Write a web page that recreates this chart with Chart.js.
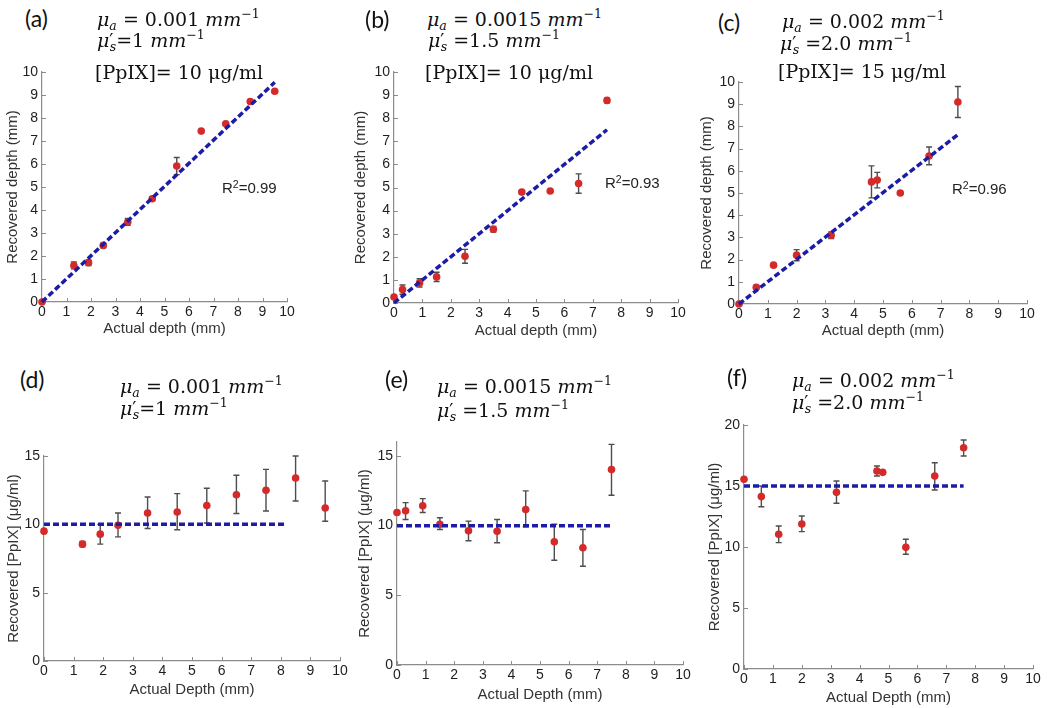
<!DOCTYPE html>
<html>
<head>
<meta charset="utf-8">
<script src="https://cdn.jsdelivr.net/npm/chart.js@4.4.0/dist/chart.umd.min.js"></script>
<style>
  body { margin: 0; background: #fff; }
  #fig { position: relative; width: 1050px; height: 708px; overflow: hidden; background: #fff; }
  .box { position: absolute; }
  .lbl { position: absolute; font-family: Lato, "Open Sans", sans-serif; font-size: 23px; line-height: 1; color: #111; }
  .h { position: absolute; font-family: "DejaVu Serif", serif; font-size: 19px; line-height: 1; white-space: nowrap; color: #111; }
  .h sub, .h sup { font-size: 0.66em; line-height: 0; }
  .h sup { vertical-align: 0.6em; }
  .h sub { vertical-align: -0.35em; }
  .h .pr { font-size: 0.95em; }
  .h sub.s { margin-left: -0.3em; }
  .r2 { position: absolute; font-family: "Liberation Sans", Arial, sans-serif; font-size: 15px; line-height: 1; color: #222; }
  .r2 sup { font-size: 0.7em; vertical-align: 0.5em; line-height: 0; }
</style>
</head>
<body>
<div id="fig"></div>
<script>
// tick labels
const depthTicks = [0, 1, 2, 3, 4, 5, 6, 7, 8, 9, 10];
const ppixTicksD = [0, 5, 10, 15];
const ppixTicksE = [0, 5, 10, 15];
const ppixTicksF = [0, 5, 10, 15, 20];

// (a) recovered depth
const aX = [0, 1.3, 1.9, 2.5, 3.5, 4.5, 5.5, 6.5, 7.5, 8.5, 9.5];
const aY = [0, 1.59, 1.71, 2.46, 3.48, 4.49, 5.91, 7.43, 7.75, 8.72, 9.16];
const aErr = [0, 0.15, 0.12, 0.1, 0.15, 0.08, 0.37, 0, 0.05, 0.05, 0.05];
const aFitX = [0, 9.5];
const aFitY = [0, 9.55];

// (b)
const bX = [0, 0.3, 0.9, 1.5, 2.5, 3.5, 4.5, 5.5, 6.5, 7.5];
const bY = [0.26, 0.58, 0.87, 1.13, 2.02, 3.19, 4.8, 4.85, 5.17, 8.77];
const bErr = [0.05, 0.2, 0.18, 0.2, 0.3, 0.12, 0.08, 0.05, 0.42, 0.1];
const bFitX = [0, 7.5];
const bFitY = [0, 7.5];

// (c)
const cX = [0, 0.6, 1.2, 2.0, 3.2, 4.6, 4.8, 5.6, 6.6, 7.6];
const cY = [0, 0.75, 1.75, 2.2, 3.1, 5.5, 5.58, 5.0, 6.67, 9.1];
const cErr = [0, 0.08, 0.05, 0.25, 0.15, 0.72, 0.35, 0.05, 0.4, 0.7];
const cFitX = [0, 7.6];
const cFitY = [0, 7.63];

// (d) recovered [PpIX]
const dX = [0, 1.3, 1.9, 2.5, 3.5, 4.5, 5.5, 6.5, 7.5, 8.5, 9.5];
const dY = [9.5, 8.55, 9.28, 9.93, 10.83, 10.9, 11.37, 12.17, 12.49, 13.39, 11.2];
const dLo = [9.5, 8.35, 8.55, 9.08, 9.7, 9.6, 10.1, 10.79, 10.98, 11.71, 10.23];
const dHi = [9.5, 8.75, 10.0, 10.83, 12.0, 12.25, 12.64, 13.59, 14.02, 15.0, 13.17];
const dFitX = [0, 8.2];
const dFitY = [10, 10];

// (e)
const eX = [0, 0.3, 0.9, 1.5, 2.5, 3.5, 4.5, 5.5, 6.5, 7.5];
const eY = [10.94, 11.06, 11.42, 10.1, 9.63, 9.6, 11.15, 8.84, 8.41, 14.02];
const eLo = [10.94, 10.44, 10.94, 9.72, 8.91, 8.77, 9.91, 7.52, 7.09, 12.18];
const eHi = [10.94, 11.65, 11.94, 10.56, 10.32, 10.44, 12.49, 10.1, 9.72, 15.83];
const eFitX = [0, 7.5];
const eFitY = [10, 10];

// (f)
const fX = [0, 0.6, 1.2, 2.0, 3.2, 4.6, 4.8, 5.6, 6.6, 7.6];
const fY = [15.55, 14.13, 11.04, 11.89, 14.48, 16.23, 16.12, 9.97, 15.82, 18.14];
const fLo = [15.55, 13.3, 10.36, 11.26, 13.58, 15.82, 16.0, 9.4, 14.67, 17.46];
const fHi = [15.55, 15.0, 11.72, 12.54, 15.41, 16.64, 16.25, 10.63, 16.91, 18.77];
const fFitX = [0, 7.6];
const fFitY = [15, 15];

const BLUE = '#1c1ca6', RED = '#d42a2a', AXIS = '#8c8c8c', ERR = '#4d4d4d';
const SANS = '"Liberation Sans", Arial, sans-serif';

const lo = (y, e) => y.map((v, i) => v - e[i]);
const hi = (y, e) => y.map((v, i) => v + e[i]);

// plot area [left, top, right, bottom] in page px, title offsets
const panels = [
  { x: aX, y: aY, lo: lo(aY, aErr), hi: hi(aY, aErr), fx: aFitX, fy: aFitY, ymax: 10, yt: depthTicks,
    ytitle: 'Recovered depth (mm)', xtitle: 'Actual depth (mm)', area: [42, 72, 287, 302], yPad: 10, xPad: 6 },
  { x: bX, y: bY, lo: lo(bY, bErr), hi: hi(bY, bErr), fx: bFitX, fy: bFitY, ymax: 10, yt: depthTicks,
    ytitle: 'Recovered depth (mm)', xtitle: 'Actual depth (mm)', area: [394, 72, 678, 303], yPad: 6, xPad: 5 },
  { x: cX, y: cY, lo: lo(cY, cErr), hi: hi(cY, cErr), fx: cFitX, fy: cFitY, ymax: 10, yt: depthTicks,
    ytitle: 'Recovered depth (mm)', xtitle: 'Actual depth (mm)', area: [739, 82, 1027, 304], yPad: 7, xPad: 6 },
  { x: dX, y: dY, lo: dLo, hi: dHi, fx: dFitX, fy: dFitY, ymax: 15, yt: ppixTicksD,
    ytitle: 'Recovered [PpIX] (\u03bcg/ml)', xtitle: 'Actual Depth (mm)', area: [44, 456, 340, 661], yPad: 9, xPad: 4 },
  { x: eX, y: eY, lo: eLo, hi: eHi, fx: eFitX, fy: eFitY, ymax: 16, yt: ppixTicksE,
    ytitle: 'Recovered [PpIX] (\u03bcg/ml)', xtitle: 'Actual Depth (mm)', area: [397, 442, 683, 665], yPad: 7, xPad: 3 },
  { x: fX, y: fY, lo: fLo, hi: fHi, fx: fFitX, fy: fFitY, ymax: 20, yt: ppixTicksF,
    ytitle: 'Recovered [PpIX] (\u03bcg/ml)', xtitle: 'Actual Depth (mm)', area: [744, 425, 1033, 669], yPad: 10, xPad: 4 }
];

const errorBars = {
  id: 'errorBars',
  beforeDatasetsDraw(chart) {
    const { ctx, chartArea: a, scales: { x, y } } = chart;
    ctx.save();
    // inward ticks like matlab
    ctx.strokeStyle = AXIS;
    ctx.lineWidth = 1;
    ctx.beginPath();
    x.ticks.forEach(t => {
      const px = Math.round(x.getPixelForValue(t.value)) + 0.5;
      ctx.moveTo(px, a.bottom);
      ctx.lineTo(px, a.bottom - 4);
    });
    y.ticks.forEach(t => {
      const py = Math.round(y.getPixelForValue(t.value)) + 0.5;
      ctx.moveTo(a.left, py);
      ctx.lineTo(a.left + 4, py);
    });
    ctx.stroke();
    // error bars
    chart.data.datasets.forEach(ds => {
      if (!ds.lo) return;
      ctx.strokeStyle = ERR;
      ctx.lineWidth = 1.4;
      ds.data.forEach((pt, i) => {
        if (ds.hi[i] - ds.lo[i] < 0.05) return;
        const px = x.getPixelForValue(pt.x);
        const y1 = y.getPixelForValue(ds.lo[i]);
        const y2 = y.getPixelForValue(ds.hi[i]);
        ctx.beginPath();
        ctx.moveTo(px, y1); ctx.lineTo(px, y2);
        ctx.moveTo(px - 3, y1); ctx.lineTo(px + 3, y1);
        ctx.moveTo(px - 3, y2); ctx.lineTo(px + 3, y2);
        ctx.stroke();
      });
    });
    ctx.restore();
  }
};

function axisOpts(horiz, max, ticks, title, titlePad, size) {
  return {
    type: 'linear',
    min: 0,
    max: max,
    afterBuildTicks: s => { s.ticks = ticks.map(v => ({ value: v })); },
    afterFit: s => {
      if (horiz) s.height = size; else s.width = size;
      s.paddingLeft = s.paddingRight = s.paddingTop = s.paddingBottom = 0;
    },
    ticks: { color: '#1e1e1e', font: { family: SANS, size: 14 }, padding: horiz ? 2 : 4, maxRotation: 0, autoSkip: false },
    grid: { display: false, drawTicks: false },
    border: { display: true, color: AXIS, width: 1.2 },
    title: {
      display: true, text: title, color: '#333', font: { family: SANS, size: 15 },
      padding: horiz ? { top: 0, bottom: titlePad } : { top: titlePad, bottom: 0 }
    }
  };
}

const fig = document.getElementById('fig');
const yW = 48, xH = 42, padT = 12, padR = 14;

panels.forEach(p => {
  const [L, T, R, B] = p.area;
  const w = R - L + yW + padR, h = B - T + padT + xH;
  const box = document.createElement('div');
  box.className = 'box';
  box.style.left = (L - yW) + 'px';
  box.style.top = (T - padT) + 'px';
  const cv = document.createElement('canvas');
  cv.width = w; cv.height = h;
  cv.style.width = w + 'px'; cv.style.height = h + 'px';
  box.appendChild(cv);
  fig.appendChild(box);

  new Chart(cv, {
    type: 'scatter',
    data: {
      datasets: [
        { data: p.fx.map((v, i) => ({ x: v, y: p.fy[i] })), showLine: true, borderColor: BLUE, borderWidth: 3.5,
          borderDash: [6, 3], pointRadius: 0, order: 0, clip: false },
        { data: p.x.map((v, i) => ({ x: v, y: p.y[i] })), lo: p.lo, hi: p.hi, backgroundColor: RED, borderColor: RED,
          borderWidth: 0, pointRadius: 3.8, order: 1, clip: false }
      ]
    },
    options: {
      responsive: false,
      animation: false,
      layout: { padding: { left: 0, top: padT, right: padR, bottom: 0 } },
      plugins: { legend: { display: false }, tooltip: { enabled: false } },
      scales: {
        x: axisOpts(true, 10, depthTicks, p.xtitle, p.xPad, xH),
        y: axisOpts(false, p.ymax, p.yt, p.ytitle, p.yPad, yW)
      }
    },
    plugins: [errorBars]
  });
});

// headings
const mua = v => `<i>\u03bc</i><sub><i>a</i></sub> = ${v} <i>mm</i><sup>\u22121</sup>`;
const mus = (v, sp) => `<i>\u03bc</i><span class="pr">\u2032</span><sub class="s"><i>s</i></sub>${sp ? ' ' : ''}=${v} <i>mm</i><sup>\u22121</sup>`;
const ppix = v => `[PpIX]= ${v} \u03bcg/ml`;

const texts = [
  ['lbl', 25, 27, '(a)'], ['h', 97, 26, mua('0.001')], ['h', 97, 47, mus('1', false)], ['h', 95, 79, ppix(10)],
  ['lbl', 365, 28, '(b)'], ['h', 427, 26, mua('0.0015')], ['h', 428, 47, mus('1.5', true)], ['h', 425, 79, ppix(10)],
  ['lbl', 718, 31, '(c)'], ['h', 782, 28, mua('0.002')], ['h', 780, 50, mus('2.0', true)], ['h', 778, 78, ppix(15)],
  ['lbl', 20, 388, '(d)'], ['h', 120, 393, mua('0.001')], ['h', 120, 415, mus('1', false)],
  ['lbl', 385, 388, '(e)'], ['h', 437, 393, mua('0.0015')], ['h', 437, 417, mus('1.5', true)],
  ['lbl', 727, 386, '(f)'], ['h', 792, 387, mua('0.002')], ['h', 792, 409, mus('2.0', true)],
  ['r2', 222, 193, 'R<sup>2</sup>=0.99'], ['r2', 605, 188, 'R<sup>2</sup>=0.93'], ['r2', 952, 194, 'R<sup>2</sup>=0.96']
];
const ascent = { lbl: 20.4, h: 16.1, r2: 12.7 };
texts.forEach(([cls, x, base, html]) => {
  const d = document.createElement('div');
  d.className = cls;
  d.style.left = x + 'px';
  d.style.top = (base - ascent[cls]) + 'px';
  d.innerHTML = html;
  fig.appendChild(d);
});
</script>
</body>
</html>
